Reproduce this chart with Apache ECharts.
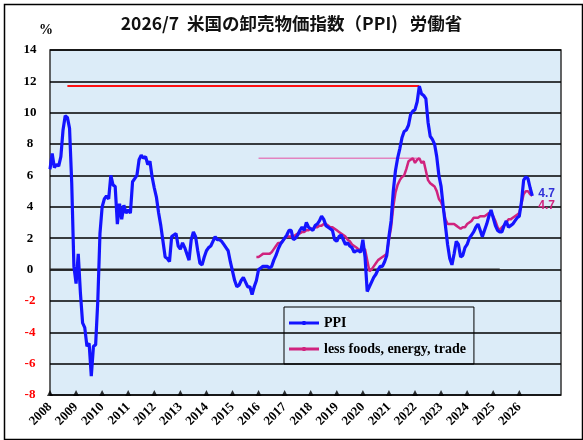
<!DOCTYPE html>
<html>
<head>
<meta charset="utf-8" />
<script src="https://cdn.jsdelivr.net/npm/echarts@6/dist/echarts.min.js"></script>
<style>
  html, body { margin: 0; padding: 0; background: #fff; }
  #main { width: 583px; height: 440px; }
</style>
</head>
<body>
<div id="main"></div>
<script type="text/javascript">
// monthly y/y %, PPI from 2008/1
var ppi2008 = [6.4, 7.4, 6.5, 6.7, 6.6, 7.2, 8.9, 9.8, 9.7, 9.0, 5.5, 0.2];
var ppi2009 = [-0.9, 1.0, -1.5, -3.4, -3.7, -4.9, -4.7, -6.8, -4.9, -4.8, -2.0, 2.3];
var ppi2010 = [4.0, 4.5, 4.7, 4.5, 6.0, 5.4, 5.3, 2.9, 4.2, 3.2, 4.1, 3.6];
var ppi2011 = [3.8, 3.6, 5.6, 5.8, 6.0, 7.0, 7.3, 7.1, 7.2, 6.7, 6.9, 5.9];
var ppi2012 = [5.2, 4.6, 3.6, 2.8, 1.8, 0.8, 0.7, 0.5, 2.1, 2.2, 2.3, 1.5];
var ppi2013 = [1.3, 1.7, 1.4, 1.0, 0.6, 1.9, 2.4, 2.1, 1.2, 0.4, 0.3, 0.8];
var ppi2014 = [1.2, 1.4, 1.5, 1.8, 2.1, 1.9, 1.9, 1.8, 1.6, 1.4, 1.2, 0.5];
var ppi2015 = [-0.1, -0.7, -1.1, -1.0, -0.7, -0.5, -0.8, -1.1, -1.1, -1.6, -1.1, -0.7];
var ppi2016 = [0.0, 0.1, 0.2, 0.2, 0.2, 0.1, 0.2, 0.6, 0.9, 1.3, 1.6, 1.8];
var ppi2017 = [2.0, 2.2, 2.5, 2.5, 1.9, 2.0, 2.2, 2.5, 2.7, 2.5, 3.0, 2.7];
var ppi2018 = [2.6, 2.5, 2.8, 2.9, 3.1, 3.4, 3.2, 2.8, 2.7, 2.6, 2.5, 1.9];
var ppi2019 = [1.8, 2.1, 2.2, 1.9, 1.6, 1.7, 1.5, 1.4, 1.1, 1.2, 1.2, 1.1];
var ppi2020 = [1.9, 0.8, -1.4, -1.1, -0.8, -0.5, -0.3, 0.0, 0.2, 0.2, 0.5, 0.9];
var ppi2021 = [2.1, 3.1, 5.0, 6.3, 7.1, 7.7, 8.4, 8.8, 8.9, 9.2, 9.9, 10.1];
var ppi2022 = [10.2, 10.7, 11.7, 11.2, 11.1, 10.9, 9.4, 8.5, 8.3, 8.0, 7.2, 6.0];
var ppi2023 = [5.3, 4.0, 2.8, 1.6, 0.7, 0.3, 1.0, 1.8, 1.6, 0.8, 0.9, 1.4];
var ppi2024 = [1.6, 2.0, 2.2, 2.4, 2.7, 2.9, 2.5, 2.1, 2.5, 2.9, 3.4, 3.8];
var ppi2025 = [3.3, 2.8, 2.5, 2.4, 2.4, 2.8, 3.1, 2.7, 2.8, 2.9, 3.1, 3.3];
var ppi2026 = [3.4, 4.3, 5.7, 5.9, 5.8, 5.2, 4.7];

// less foods, energy, trade, from 2015/12
var core2015 = [0.8];
var core2016 = [0.8, 0.9, 1.0, 1.0, 1.0, 1.0, 1.1, 1.3, 1.5, 1.7, 1.7, 1.8];
var core2017 = [2.0, 2.1, 2.1, 2.1, 2.1, 2.2, 2.3, 2.3, 2.4, 2.4, 2.5, 2.5];
var core2018 = [2.6, 2.6, 2.7, 2.7, 2.8, 2.8, 2.9, 2.9, 2.8, 2.7, 2.7, 2.6];
var core2019 = [2.5, 2.4, 2.3, 2.2, 2.1, 1.9, 1.8, 1.6, 1.5, 1.4, 1.3, 1.2];
var core2020 = [1.3, 1.3, 0.6, -0.1, 0.0, 0.2, 0.4, 0.6, 0.7, 0.8, 0.9, 1.0];
var core2021 = [1.9, 2.7, 4.0, 4.9, 5.4, 5.7, 5.9, 6.0, 6.4, 6.9, 7.0, 7.1];
var core2022 = [6.8, 7.0, 7.1, 6.8, 6.9, 6.3, 5.7, 5.5, 5.4, 5.3, 5.0, 4.5];
var core2023 = [4.3, 3.9, 3.2, 2.9, 2.9, 2.9, 2.9, 2.8, 2.7, 2.6, 2.7, 2.7];
var core2024 = [2.9, 3.0, 3.1, 3.3, 3.3, 3.3, 3.4, 3.4, 3.4, 3.5, 3.6, 3.6];
var core2025 = [3.4, 3.1, 2.7, 2.5, 2.7, 2.8, 3.0, 3.2, 3.2, 3.3, 3.4, 3.5];
var core2026 = [3.6, 4.2, 4.8, 5.0, 5.0, 4.8, 4.7];

var ppiStart = 2008;          // 2008/1
var coreStart = 2015 + 11 / 12; // 2015/12

// reference lines [year, value]
var ppiPeakLine = [[2008 + 8 / 12, 11.7], [2022 + 2 / 12, 11.7]];
var corePeakLine = [[2016, 7.1], [2022 + 2 / 12, 7.1]];
var zeroLine = [[2008, 0], [2025 + 3 / 12, 0]];

var years = [2008, 2009, 2010, 2011, 2012, 2013, 2014, 2015, 2016, 2017,
  2018, 2019, 2020, 2021, 2022, 2023, 2024, 2025, 2026];

var ppi = [].concat(ppi2008, ppi2009, ppi2010, ppi2011, ppi2012, ppi2013, ppi2014,
  ppi2015, ppi2016, ppi2017, ppi2018, ppi2019, ppi2020, ppi2021, ppi2022, ppi2023,
  ppi2024, ppi2025, ppi2026);
var core = [].concat(core2015, core2016, core2017, core2018, core2019, core2020,
  core2021, core2022, core2023, core2024, core2025, core2026);

function monthly(start, vals) {
  return vals.map(function (v, i) { return [start + i / 12, v]; });
}

var serif = 'Liberation Serif';
// legend sample: thin line with a small marker in the middle
var lineIcon = 'path://M0,0.5h30v3h-30z M13.5,0h3v4h-3z';

var chart = echarts.init(document.getElementById('main'), null, { renderer: 'canvas' });
chart.setOption({
  animation: false,
  backgroundColor: '#fff',
  title: {
    text: '2026/7  米国の卸売物価指数（PPI)   労働省',
    left: 'center',
    top: 10,
    textStyle: { fontFamily: 'Noto Sans CJK JP', fontWeight: 'bold', fontSize: 17.5, color: '#111' }
  },
  graphic: [
    { type: 'rect', left: 2, top: 2, shape: { width: 578, height: 435 },
      style: { fill: 'none', stroke: '#000', lineWidth: 1.5 }, silent: true },
    { type: 'text', left: 39, top: 23,
      style: { text: '%', font: 'bold 14px "Liberation Serif"', fill: '#000' } }
  ],
  legend: {
    data: [
      { name: 'PPI', icon: lineIcon },
      { name: 'less foods, energy, trade', icon: lineIcon }
    ],
    orient: 'vertical',
    left: 284,
    top: 307,
    itemWidth: 30,
    itemHeight: 10,
    itemGap: 12,
    padding: [9, 8, 8, 5],
    borderColor: '#000',
    borderWidth: 1,
    textStyle: { fontFamily: serif, fontWeight: 'bold', fontSize: 14, color: '#000' }
  },
  grid: {
    left: 50, top: 50, width: 511, height: 345,
    show: true, backgroundColor: '#dcecf8', borderColor: '#333', borderWidth: 1.5
  },
  xAxis: {
    type: 'value',
    min: 2008,
    max: 2027.6,
    interval: 1,
    axisLine: { show: false },
    axisTick: { show: false },
    splitLine: { show: false },
    axisLabel: {
      rotate: 45,
      margin: 10,
      showMaxLabel: false,
      fontFamily: serif, fontWeight: 'bold', fontSize: 13, color: '#000',
      formatter: function (v) { return v <= 2026 ? String(v) : ''; }
    }
  },
  yAxis: {
    type: 'value',
    min: -8,
    max: 14,
    interval: 2,
    axisLine: { show: false },
    axisTick: { show: false },
    splitLine: { lineStyle: { color: '#000', width: 1.5 } },
    axisLabel: {
      align: 'center',
      margin: 20,
      fontFamily: serif, fontWeight: 'bold', fontSize: 13,
      color: function (v) { return v < 0 ? '#ff0000' : '#000'; }
    }
  },
  series: [
    {
      type: 'line', name: 'zero', data: zeroLine, symbol: 'none', silent: true,
      lineStyle: { color: '#222', width: 2 }
    },
    {
      type: 'line', name: 'ppiPeak', data: ppiPeakLine, symbol: 'none', silent: true,
      lineStyle: { color: '#ff1010', width: 2 },
      markPoint: {
        symbol: 'none',
        data: [{ coord: [2017.75, 11.7], value: '11.7' }],
        label: { show: true, offset: [0, -16], fontFamily: 'Liberation Sans', fontWeight: 'bold', fontSize: 11, color: '#3030d8', formatter: '{c}' }
      }
    },
    {
      type: 'line', name: 'corePeak', data: corePeakLine, symbol: 'none', silent: true,
      lineStyle: { color: '#e283bf', width: 1.5 },
      markPoint: {
        symbol: 'none',
        data: [{ coord: [2018.05, 7.1], value: '7.1' }],
        label: { show: true, offset: [0, -8], fontFamily: 'Liberation Sans', fontWeight: 'bold', fontSize: 11, color: '#c81f86', formatter: '{c}' }
      }
    },
    {
      type: 'line', name: 'less foods, energy, trade', data: monthly(coreStart, core),
      symbol: 'none',
      itemStyle: { color: '#d0237e' },
      lineStyle: { color: '#d0237e', width: 2.5 },
      endLabel: {
        show: true, offset: [-2, 10],
        fontFamily: 'Liberation Sans', fontWeight: 'bold', fontSize: 12, color: '#d0237e',
        formatter: function (p) { return p.value[1].toFixed(1); }
      }
    },
    {
      type: 'line', name: 'PPI', data: monthly(ppiStart, ppi),
      symbol: 'none',
      itemStyle: { color: '#1414ff' },
      lineStyle: { color: '#1414ff', width: 3.2 },
      endLabel: {
        show: true, offset: [-2, -2],
        fontFamily: 'Liberation Sans', fontWeight: 'bold', fontSize: 12, color: '#3030d8',
        formatter: function (p) { return p.value[1].toFixed(1); }
      }
    },
    {
      type: 'scatter', name: 'ticks', silent: true,
      data: years.map(function (y) { return [y, -8]; }),
      symbol: 'triangle', symbolSize: [6, 6], symbolOffset: [0, -2],
      clip: false,
      itemStyle: { color: '#000' }
    }
  ]
});
</script>
</body>
</html>
